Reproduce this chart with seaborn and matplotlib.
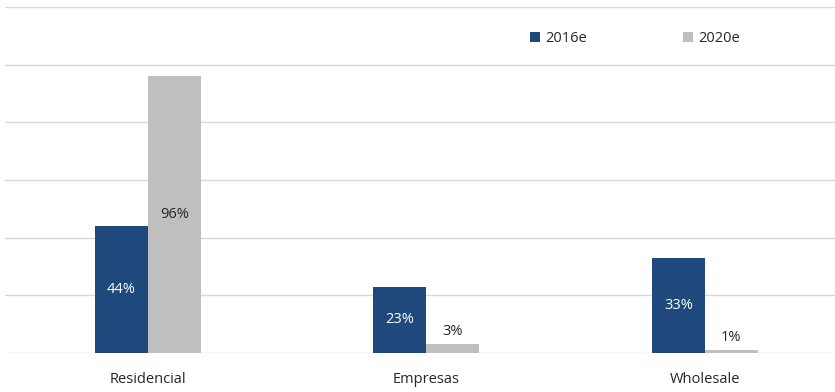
import pandas as pd
import matplotlib.pyplot as plt
import seaborn as sns

# Chart values
categories = ['Residencial', 'Empresas', 'Wholesale']
series = ['2016e', '2020e']
values_2016 = [44, 23, 33]
values_2020 = [96, 3, 1]
colors = ['#1F497D', '#BFBFBF']

df = pd.DataFrame({
    'Segmento': categories * 2,
    'Año': [series[0]] * 3 + [series[1]] * 3,
    'Valor': values_2016 + values_2020,
})

sns.set_style('white')
plt.rcParams['font.family'] = ['Open Sans', 'DejaVu Sans']

fig = plt.figure(figsize=(8.35, 3.92), dpi=100)
ax = fig.add_axes([0.006, 0.0995, 0.994, 0.8825])

sns.barplot(data=df, x='Segmento', y='Valor', hue='Año', palette=colors,
            width=0.38, saturation=1, linewidth=0, ax=ax, legend=True)

ax.set_xlim(-0.513, 2.467)
ax.set_ylim(0, 120)
ax.set_yticks(range(0, 121, 20))
ax.yaxis.grid(True, color='#D9D9D9', linewidth=1)
ax.set_axisbelow(True)
ax.set_yticklabels([])
ax.tick_params(left=False, bottom=False)
ax.tick_params(axis='x', labelsize=10.5, pad=10, colors='#262626')
ax.set_xlabel('')
ax.set_ylabel('')
sns.despine(ax=ax, left=True, bottom=True)

# Data labels: centred on tall bars, above small ones
for container, txt_color in zip(ax.containers, ['white', '#262626']):
    for bar in container:
        h = bar.get_height()
        x = bar.get_x() + bar.get_width() / 2
        if h > 10:
            ax.text(x, h / 2, f'{h:.0f}%', ha='center', va='center',
                    color=txt_color, fontsize=10.5)
        else:
            ax.annotate(f'{h:.0f}%', (x, h), xytext=(0, 4),
                        textcoords='offset points', ha='center', va='bottom',
                        color=txt_color, fontsize=10.5)

ax.legend(loc='upper left', bbox_to_anchor=(0.632, 0.93), ncol=2,
          frameon=False, fontsize=10.5, handlelength=0.7, handleheight=0.7,
          handletextpad=0.35, columnspacing=6.6, borderpad=0, borderaxespad=0)

fig.savefig('out.png', dpi=100)
